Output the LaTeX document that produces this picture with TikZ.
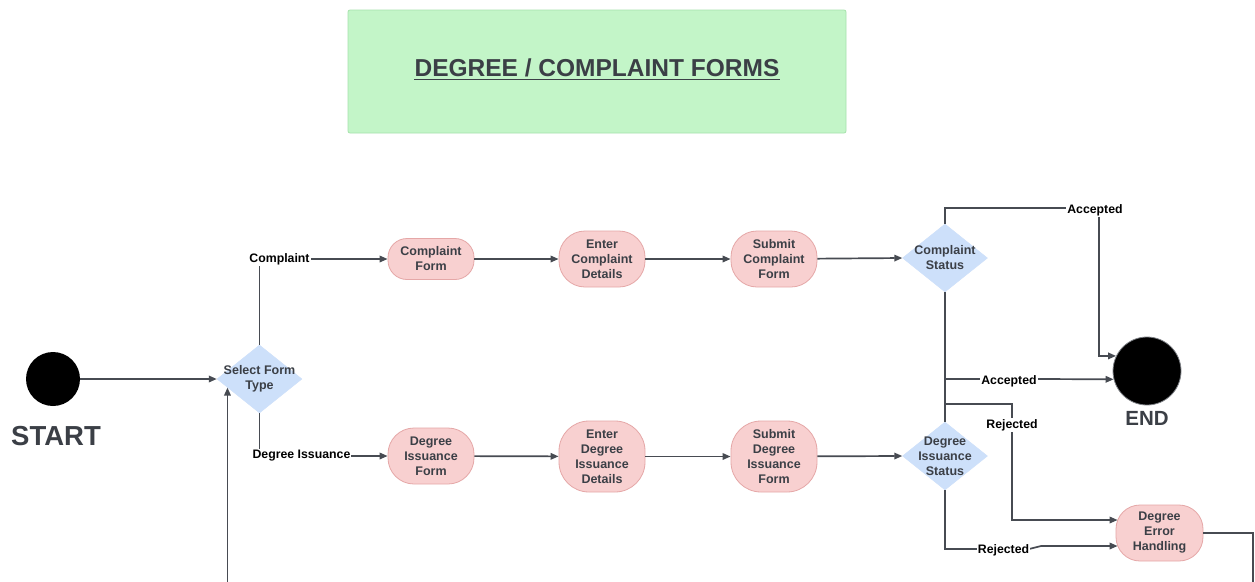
\documentclass[tikz,border=0pt]{standalone}
\usepackage{fontspec}
\setmainfont{Liberation Sans}
\usetikzlibrary{arrows.meta,shapes.geometric,calc}

\definecolor{lc}{HTML}{474B52}
\definecolor{txt}{HTML}{3B3F46}
\definecolor{pinkf}{HTML}{F8D0D0}
\definecolor{pinkb}{HTML}{E5A7A7}
\definecolor{bluef}{HTML}{CDE0FA}
\definecolor{greenf}{HTML}{C3F5C8}
\definecolor{greenb}{HTML}{A6E2AC}

\newcommand\actfont{\fontsize{12.5}{15}\selectfont\bfseries}
\newcommand\edgefont{\fontsize{12.3}{14}\selectfont\bfseries}

\tikzset{
  conn/.style={draw=lc, line width=1.7pt, -{Triangle[length=8pt,width=6.5pt]}},
  act/.style={draw=pinkb, fill=pinkf, line width=0.8pt, rounded corners=#1,
    minimum width=86pt, inner sep=0pt, align=center, font=\actfont, text=txt},
  dec/.style={diamond, fill=bluef, draw=bluef, minimum width=85pt,
    minimum height=68pt, inner sep=0pt},
  dectext/.style={align=center, font=\actfont, text=txt, inner sep=0pt},
  elab/.style={fill=white, inner sep=1pt, font=\edgefont, text=black},
  dot/.style={circle, fill=black, inner sep=0pt, minimum size=#1},
  caption/.style={font=\bfseries, text=txt, inner sep=0pt}
}

\begin{document}
\begin{tikzpicture}[x=1pt,y=-1pt]
\useasboundingbox (0,0) rectangle (1255,581);
\clip (0,0) rectangle (1255,581);
\fill[white] (0,0) rectangle (1255,581);

% title banner
\node[draw=greenb, fill=greenf, line width=0.8pt, rounded corners=2pt,
      minimum width=498pt, minimum height=123pt] (banner) at (597,71.5) {};
\node[anchor=base, inner sep=0pt, text=txt,
      font=\fontsize{24.5}{28}\selectfont\bfseries] (ttl) at (597,76) {DEGREE / COMPLAINT FORMS};
\draw[txt, line width=1.8pt] ($(ttl.base west)+(0,3.5)$) -- ($(ttl.base east)+(0,3.5)$);

% start and end states
\node[dot=54pt] (start) at (53,379) {};
\node[caption, font=\fontsize{27.5}{30}\selectfont\bfseries] (startlbl) at (56,436) {START};
\node[dot=68pt, draw=lc!70, line width=0.8pt] (end) at (1147,371) {};
\node[caption, font=\fontsize{20.5}{24}\selectfont\bfseries] (endlbl) at (1147,418) {END};

% decisions
\node[dec] (sel) at (259.5,379) {};
\node[dectext] (seltxt) at (sel) {Select Form\\Type};
\node[dec] (cs) at (945,258) {};
\node[dectext] (cstxt) at (cs) {Complaint\\Status};
\node[dec] (dis) at (945,456) {};
\node[dectext] (distxt) at (dis) {Degree\\Issuance\\Status};

% complaint branch
\node[act=19pt, minimum height=41pt] (cf) at (431,259) {Complaint\\Form};
\node[act=26pt, minimum height=56pt] (ecd) at (602,259) {Enter\\Complaint\\Details};
\node[act=26pt, minimum height=56pt] (scf) at (774,259) {Submit\\Complaint\\Form};

% degree issuance branch
\node[act=26pt, minimum height=56pt] (dif) at (431,456) {Degree\\Issuance\\Form};
\node[act=30pt, minimum height=71pt] (edid) at (602,456.5) {Enter\\Degree\\Issuance\\Details};
\node[act=30pt, minimum height=71pt] (sdif) at (774,456.5) {Submit\\Degree\\Issuance\\Form};

% error handling
\node[act=24pt, minimum height=56pt, minimum width=87pt] (deh) at (1159.5,533) {Degree\\Error\\Handling};

% connectors
\draw[conn] (start) -- (sel.west);
\draw[conn] (sel.north) |- (cf.west)
  node[elab, pos=0.5, anchor=center, xshift=20pt] {Complaint};
\draw[conn] (sel.south) |- (dif.west)
  node[elab, pos=0.5, anchor=center, xshift=42pt] {Degree Issuance};

\draw[conn] (cf) -- (ecd);
\draw[conn] (ecd) -- (scf);
\draw[conn] (scf) -- (cs.west);
\draw[conn] (dif) -- (edid);
\draw[conn] (edid) -- (sdif);
\draw[conn] (sdif) -- (dis.west);

% outcomes
\draw[conn] (cs.north) |- (1099,208) node[elab, pos=1, xshift=-4pt, yshift=-2pt] {Accepted}
  |- (end.154);
\draw[conn] (dis.north) |- (980,379) -- (1038,379) node[elab, midway, yshift=-2pt] {Accepted}
  -- (end.194);
\draw[conn] (cs.south) |- (1012,404) -- (1012,425) node[elab] {Rejected}
  |- ($(deh.west)+(2,-13)$);
\draw[conn] (dis.south) |- (978,549) -- (1029,549) node[elab, midway, yshift=-1pt] {Rejected}
  -- (1041,546) -- ($(deh.west)+(2,13)$);

% retry loop back to the form selection
\coordinate (loopin) at ($(sel.west)!0.25!(sel.south)$);
\draw[conn] (deh.east) -| (1253,600) -| (loopin);
\end{tikzpicture}
\end{document}
